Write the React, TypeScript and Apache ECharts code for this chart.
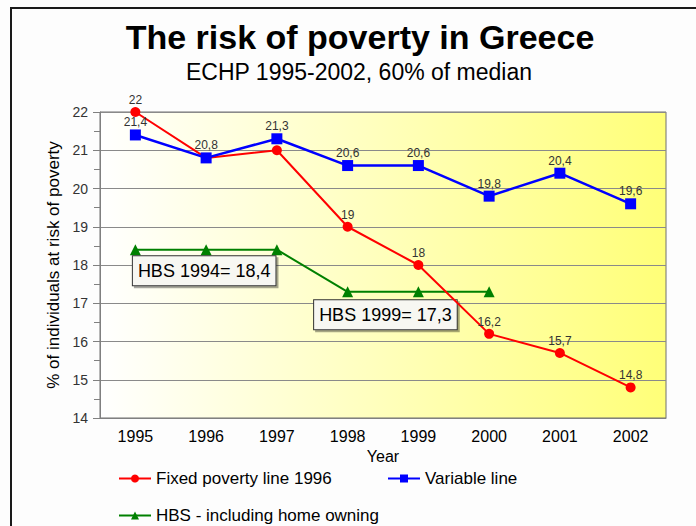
import React, { useEffect, useRef } from "react";
import * as echarts from "echarts";

const years = ["1995", "1996", "1997", "1998", "1999", "2000", "2001", "2002"];
const fixedLine = [22, 20.8, 21, 19, 18, 16.2, 15.7, 14.8];
const variableLine = [21.4, 20.8, 21.3, 20.6, 20.6, 19.8, 20.4, 19.6];
const hbsLine: (number | null)[] = [18.4, 18.4, 18.4, 17.3, 17.3, 17.3, null, null];
const hbsNotes = ["HBS 1994= 18,4", "HBS 1999= 17,3"];
const yTicks = { min: 14, max: 22, interval: 1 };

const FONT = "Liberation Sans, Arial, sans-serif";
const fmt = (v: number) => String(v).replace(".", ",");

export default function App() {
  const ref = useRef<HTMLDivElement>(null);
  useEffect(() => {
    if (!ref.current) return;
    const chart = echarts.init(ref.current, undefined, { renderer: "svg" });
    const dataLabel = {
      show: true,
      position: "top" as const,
      distance: 1,
      fontSize: 12,
      color: "#333",
      fontFamily: FONT,
      formatter: (p: any) => fmt(p.value),
    };
    const noteBox = {
      show: true,
      fontSize: 18,
      fontFamily: FONT,
      color: "#000",
      backgroundColor: "#f7f7f2",
      borderColor: "#333",
      borderWidth: 1,
      padding: [6, 5, 5, 5],
      shadowColor: "rgba(0,0,0,0.35)",
      shadowOffsetX: 2,
      shadowOffsetY: 2,
      align: "left",
      verticalAlign: "top",
    };
    const legendText = { fontSize: 17, color: "#000", fontFamily: FONT };
    chart.setOption({
      animation: false,
      backgroundColor: "#fdfdfd",
      textStyle: { fontFamily: FONT },
      graphic: [
        {
          type: "rect",
          shape: { x: 11, y: 8, width: 720, height: 540 },
          style: { fill: "none", stroke: "#1a1a1a", lineWidth: 2 },
          silent: true,
        },
        {
          type: "text",
          x: 360,
          y: 37,
          style: {
            text: "The risk of poverty in Greece",
            fontSize: 34,
            fontWeight: "bold",
            fontFamily: FONT,
            fill: "#000",
            textAlign: "center",
            textVerticalAlign: "middle",
          },
        },
        {
          type: "text",
          x: 359,
          y: 72,
          style: {
            text: "ECHP 1995-2002, 60% of median",
            fontSize: 23,
            fontFamily: FONT,
            fill: "#000",
            textAlign: "center",
            textVerticalAlign: "middle",
          },
        },
      ],
      grid: {
        left: 100,
        right: 30,
        top: 112,
        bottom: 108,
        show: true,
        borderColor: "#707070",
        borderWidth: 1,
        backgroundColor: new echarts.graphic.LinearGradient(0, 0, 1, 0, [
          { offset: 0, color: "#ffffff" },
          { offset: 1, color: "#ffff78" },
        ]),
      },
      xAxis: {
        type: "category",
        data: years,
        boundaryGap: true,
        name: "Year",
        nameLocation: "middle",
        nameGap: 30,
        nameTextStyle: { fontSize: 16, color: "#000", fontFamily: FONT },
        axisLine: { lineStyle: { color: "#808080", width: 1 } },
        axisTick: { alignWithLabel: true, length: 7, lineStyle: { color: "#a0a0a0" } },
        axisLabel: { fontSize: 16, color: "#000", margin: 10, fontFamily: FONT },
        splitLine: { show: false },
      },
      yAxis: {
        type: "value",
        min: yTicks.min,
        max: yTicks.max,
        interval: yTicks.interval,
        name: "% of individuals at risk of poverty",
        nameLocation: "middle",
        nameGap: 38,
        nameTextStyle: { fontSize: 17, color: "#000", fontFamily: FONT },
        axisLine: { show: true, lineStyle: { color: "#808080", width: 1 } },
        axisTick: { show: true, length: 7, lineStyle: { color: "#808080" } },
        minorTick: { show: true, splitNumber: 2, length: 6, lineStyle: { color: "#808080" } },
        axisLabel: { fontSize: 14, color: "#333", margin: 12, fontFamily: FONT },
        splitLine: { show: true, lineStyle: { color: "#8a8a8a", width: 1 } },
      },
      legend: [
        {
          data: ["Fixed poverty line 1996"],
          left: 118,
          top: 470,
          padding: 0,
          itemWidth: 32,
          itemHeight: 10,
          textStyle: legendText,
        },
        {
          data: ["Variable line"],
          left: 387,
          top: 470,
          padding: 0,
          itemWidth: 32,
          itemHeight: 10,
          textStyle: legendText,
        },
        {
          data: ["HBS - including home owning"],
          left: 118,
          top: 507,
          padding: 0,
          itemWidth: 32,
          itemHeight: 10,
          textStyle: legendText,
        },
      ],
      series: [
        {
          name: "HBS - including home owning",
          type: "line",
          data: hbsLine.map((v, i) => {
            if (i === 0)
              return { value: v, label: { ...noteBox, position: [3, 12], formatter: hbsNotes[0] } };
            if (i === 3)
              return { value: v, label: { ...noteBox, position: [-28, 14], formatter: hbsNotes[1] } };
            return v;
          }),
          color: "#008000",
          symbol: "triangle",
          symbolSize: 11,
          lineStyle: { width: 2, color: "#008000" },
          itemStyle: { color: "#008000" },
          label: { show: false },
          z: 2,
        },
        {
          name: "Fixed poverty line 1996",
          type: "line",
          data: fixedLine.map((v, i) =>
            i === 1 || i === 2 ? { value: v, label: { show: false } } : v
          ),
          color: "#ff0000",
          symbol: "circle",
          symbolSize: 10,
          lineStyle: { width: 2, color: "#ff0000" },
          itemStyle: { color: "#ff0000" },
          label: dataLabel,
          z: 3,
        },
        {
          name: "Variable line",
          type: "line",
          data: variableLine,
          color: "#0000ff",
          symbol: "rect",
          symbolSize: 11,
          lineStyle: { width: 2.5, color: "#0000ff" },
          itemStyle: { color: "#0000ff" },
          label: dataLabel,
          z: 4,
        },
      ],
    });
    return () => chart.dispose();
  }, []);
  return (
    <div
      ref={ref}
      style={{ position: "fixed", left: 0, top: 0, width: 696, height: 526 }}
    />
  );
}
